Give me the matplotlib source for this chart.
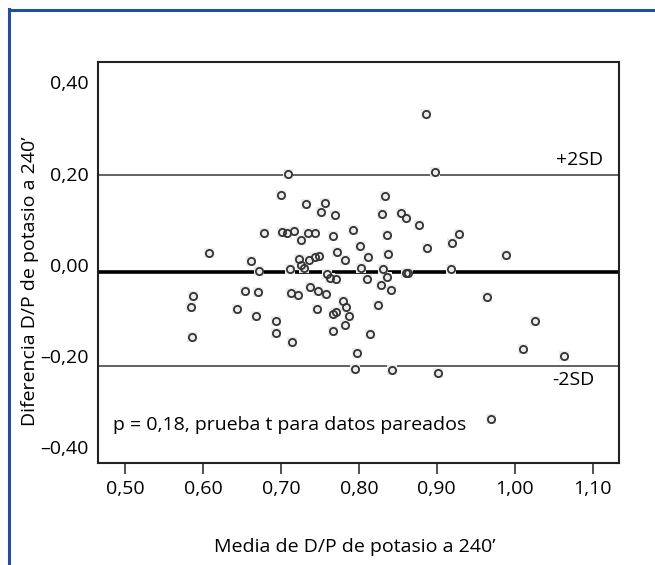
import matplotlib
matplotlib.use("Agg")
import matplotlib.pyplot as plt
from matplotlib.lines import Line2D

plt.rcParams['font.family'] = ['Open Sans', 'DejaVu Sans']

# media de D/P (eje x) y diferencia de D/P (eje y)
media = [0.709, 0.700, 0.732, 0.756, 0.751, 0.769, 0.678, 0.701, 0.708, 0.717,
         0.726, 0.735, 0.744, 0.767, 0.792, 0.802, 0.607, 0.661, 0.672, 0.712,
         0.723, 0.726, 0.730, 0.736, 0.744, 0.749, 0.772, 0.782, 0.803, 0.812,
         0.759, 0.763, 0.770, 0.886, 0.898, 0.833, 0.830, 0.854, 0.861, 0.877,
         0.836, 0.928, 0.920, 0.887, 0.838, 0.989, 0.831, 0.918, 0.860, 0.863,
         0.811, 0.836, 0.587, 0.585, 0.586, 0.643, 0.654, 0.671, 0.668, 0.694,
         0.694, 0.714, 0.713, 0.722, 0.737, 0.748, 0.758, 0.746, 0.779, 0.783,
         0.770, 0.767, 0.787, 0.782, 0.767, 0.798, 0.795, 0.814, 0.829, 0.841,
         0.825, 0.843, 0.902, 0.965, 1.026, 1.011, 1.064, 0.969]
diferencia = [0.199, 0.152, 0.133, 0.135, 0.115, 0.109, 0.069, 0.071, 0.069, 0.074,
              0.054, 0.069, 0.070, 0.063, 0.075, 0.040, 0.025, 0.008, -0.014, -0.010,
              0.013, -0.001, -0.008, 0.010, 0.016, 0.019, 0.027, 0.009, -0.008, 0.017,
              -0.020, -0.029, -0.031, 0.330, 0.203, 0.151, 0.111, 0.113, 0.103, 0.087,
              0.065, 0.067, 0.047, 0.037, 0.024, 0.021, -0.009, -0.009, -0.018, -0.019,
              -0.031, -0.028, -0.069, -0.093, -0.159, -0.098, -0.058, -0.060, -0.113, -0.124,
              -0.151, -0.170, -0.062, -0.067, -0.049, -0.058, -0.065, -0.097, -0.081, -0.093,
              -0.104, -0.109, -0.113, -0.132, -0.146, -0.195, -0.229, -0.152, -0.044, -0.056,
              -0.089, -0.232, -0.238, -0.072, -0.124, -0.186, -0.202, -0.339]

media_dif = -0.017
sup_2sd = 0.196
inf_2sd = -0.222

xticks = [0.50, 0.60, 0.70, 0.80, 0.90, 1.00, 1.10]
xticklabels = ['0,50', '0,60', '0,70', '0,80', '0,90', '1,00', '1,10']
yticks = [0.40, 0.20, 0.00, -0.20, -0.40]
yticklabels = ['0,40', '0,20', '0,00', '–0,20', '–0,40']

fig = plt.figure(figsize=(6.55, 5.65), dpi=100)
ax = fig.add_axes([98/655, 102/565, 521/655, 401/565])

# marco azul de la figura
fig.add_artist(Line2D([9/655, 9/655], [0, 1 - 9/565], color='#1f4f9e', lw=2.2))
fig.add_artist(Line2D([9/655, 1], [1 - 10/565, 1 - 10/565], color='#1f4f9e', lw=2.2))

ax.axhline(sup_2sd, color='#555555', lw=1.3, zorder=1)
ax.axhline(inf_2sd, color='#555555', lw=1.3, zorder=1)
ax.axhline(media_dif, color='black', lw=2.6, zorder=1)

ax.scatter(media, diferencia, marker='s', s=60, color='#ececec', zorder=2, linewidths=0)
ax.plot(media, diferencia, 'o', ms=5.2, mfc='none', mec='#333333', mew=1.3, zorder=3)

ax.text(1.114, 0.230, '+2SD', ha='right', va='center', fontsize=14)
ax.text(1.103, -0.254, '-2SD', ha='right', va='center', fontsize=14)
ax.text(0.028, -0.353, 'p = 0,18, prueba t para datos pareados',
        transform=ax.get_yaxis_transform(), fontsize=14, va='center')

ax.set_xlim(0.465, 1.134)
ax.set_ylim(-0.436, 0.445)
ax.set_xticks(xticks)
ax.set_xticklabels(xticklabels, fontsize=14)
ax.set_yticks(yticks)
ax.set_yticklabels(yticklabels, fontsize=14)
ax.tick_params(axis='x', length=8, width=1.2, color='#333333', pad=4)
ax.tick_params(axis='y', length=0, pad=7)
for s in ax.spines.values():
    s.set_linewidth(1.5)
    s.set_color('#222222')

fig.text(355/655, 1 - 547/565, 'Media de D/P de potasio a 240’', ha='center', va='center', fontsize=14)
fig.text(30/655, 1 - 281/565, 'Diferencia D/P de potasio a 240’', ha='center', va='center',
         rotation=90, fontsize=14)

fig.savefig('out.png', dpi=100)
